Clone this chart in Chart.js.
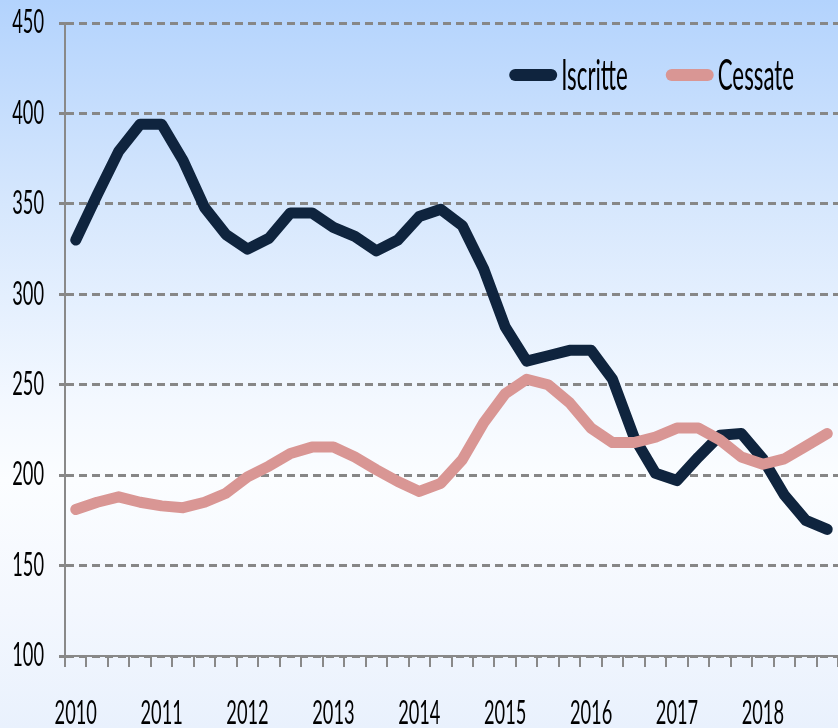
<!DOCTYPE html>
<html><head><meta charset="utf-8">
<script src="https://cdn.jsdelivr.net/npm/chart.js@4"></script>
<style>
html,body{margin:0;padding:0;background:#fff;}
#wrap{width:838px;height:728px;position:relative;background:linear-gradient(to bottom,#b3d3fd 0%,#d6e7fd 28%,#f3f8ff 55%,#fbfdff 66%,#f3f7fe 84%,#e9f1fd 100%);}
canvas{display:block}
</style></head><body>
<div id="wrap"><canvas id="c" width="838" height="728"></canvas></div>
<script>
const years = ['2010','2011','2012','2013','2014','2015','2016','2017','2018'];
const quarters = ['T1','T2','T3','T4'];
const categories = [];
years.forEach(y => quarters.forEach(q => categories.push(y + ' ' + q)));
const tickLabels = categories.map(c => c.endsWith('T1') ? c.slice(0, 4) : '');

const iscritte = [330, 355, 379, 394, 394, 374, 348, 333, 325, 331, 345, 345, 337, 332, 324, 330, 343, 347, 338, 314, 282, 263, 266, 269, 269, 253, 221, 201, 197, 210, 222, 223, 209, 189, 175, 170];
const cessate = [181, 185, 188, 185, 183, 182, 185, 190, 199, 205, 212, 215.5, 215.5, 210, 203, 196.5, 191, 195.5, 208.5, 229, 245, 253, 250, 240, 226, 218, 218, 221, 226, 226, 219.5, 210, 206, 209, 216, 223];
const yTicks = [100, 150, 200, 250, 300, 350, 400, 450];

const FONT = 'Lato, "Open Sans", "Liberation Sans", sans-serif';
const AXIS_SX = 0.57;   // horizontal condensing of axis text, as in the reference
const LEGEND_SX = 0.53; // horizontal condensing of legend text
let SX = AXIS_SX;

// draws text condensed horizontally around its anchor point
const condense = {
  id: 'condense',
  beforeDraw(chart) {
    const orig = CanvasRenderingContext2D.prototype.fillText;
    chart.ctx.fillText = function (t, x, y, mw) {
      this.save();
      this.translate(x, y);
      this.scale(SX, 1);
      if (mw === undefined) orig.call(this, t, 0, 0); else orig.call(this, t, 0, 0, mw / SX);
      this.restore();
    };
  },
  afterDraw(chart) { delete chart.ctx.fillText; }
};

// legend drawn inside the plot area, top right
const innerLegend = {
  id: 'innerLegend',
  afterDatasetsDraw(chart) {
    const ctx = chart.ctx, area = chart.chartArea;
    const sw = 48, sh = 12, gapText = 4, gapItem = 38, cy = 75;
    ctx.save();
    SX = LEGEND_SX;
    ctx.font = '42px ' + FONT;
    ctx.textBaseline = 'middle';
    ctx.textAlign = 'left';
    const ds = chart.data.datasets;
    const widths = ds.map(d => sw + gapText + ctx.measureText(d.label).width * SX);
    let x = area.right - 44 - widths.reduce((a, b) => a + b, 0) - gapItem * (ds.length - 1);
    ds.forEach((d, i) => {
      ctx.fillStyle = d.borderColor;
      ctx.beginPath();
      ctx.roundRect(x, cy - sh / 2, sw, sh, sh / 2);
      ctx.fill();
      ctx.fillStyle = '#000';
      ctx.fillText(d.label, x + sw + gapText, cy + 1);
      x += widths[i] + gapItem;
    });
    SX = AXIS_SX;
    ctx.restore();
  }
};

new Chart(document.getElementById('c'), {
  type: 'line',
  data: {
    labels: categories,
    datasets: [
      {label: 'Iscritte', data: iscritte, borderColor: '#0F243E', backgroundColor: '#0F243E', borderWidth: 11,
       pointRadius: 0, tension: 0, borderJoinStyle: 'round', borderCapStyle: 'round', order: 1},
      {label: 'Cessate', data: cessate, borderColor: '#D99694', backgroundColor: '#D99694', borderWidth: 11,
       pointRadius: 0, tension: 0, borderJoinStyle: 'round', borderCapStyle: 'round', order: 0}
    ]
  },
  plugins: [condense, innerLegend],
  options: {
    responsive: false, animation: false, devicePixelRatio: 1,
    layout: {padding: {top: 23, right: 0, left: 0, bottom: 0}},
    plugins: {
      tooltip: {enabled: false},
      legend: {display: false}
    },
    scales: {
      x: {
        offset: true,
        grid: {offset: true, drawOnChartArea: false, drawTicks: true, tickLength: 11, color: '#898989', lineWidth: 2},
        border: {color: '#898989', width: 2},
        ticks: {autoSkip: false, maxRotation: 0, minRotation: 0, padding: 27, color: '#000',
                font: {family: FONT, size: 32}, callback: (v, i) => tickLabels[i]},
        afterFit: s => { s.height = 72; s.paddingLeft = 0; s.paddingRight = 0; }
      },
      y: {
        min: 100, max: 450,
        afterBuildTicks: s => { s.ticks = yTicks.map(v => ({value: v})); },
        ticks: {color: '#000', padding: 15, font: {family: FONT, size: 32}},
        grid: {color: '#878787', lineWidth: 3, tickLength: 6, tickColor: '#878787', tickWidth: 3},
        border: {color: '#898989', width: 2, dash: [8, 5]},
        afterFit: s => { s.width = 65; s.paddingTop = 0; s.paddingBottom = 0; }
      }
    }
  }
});
</script>
</body></html>
